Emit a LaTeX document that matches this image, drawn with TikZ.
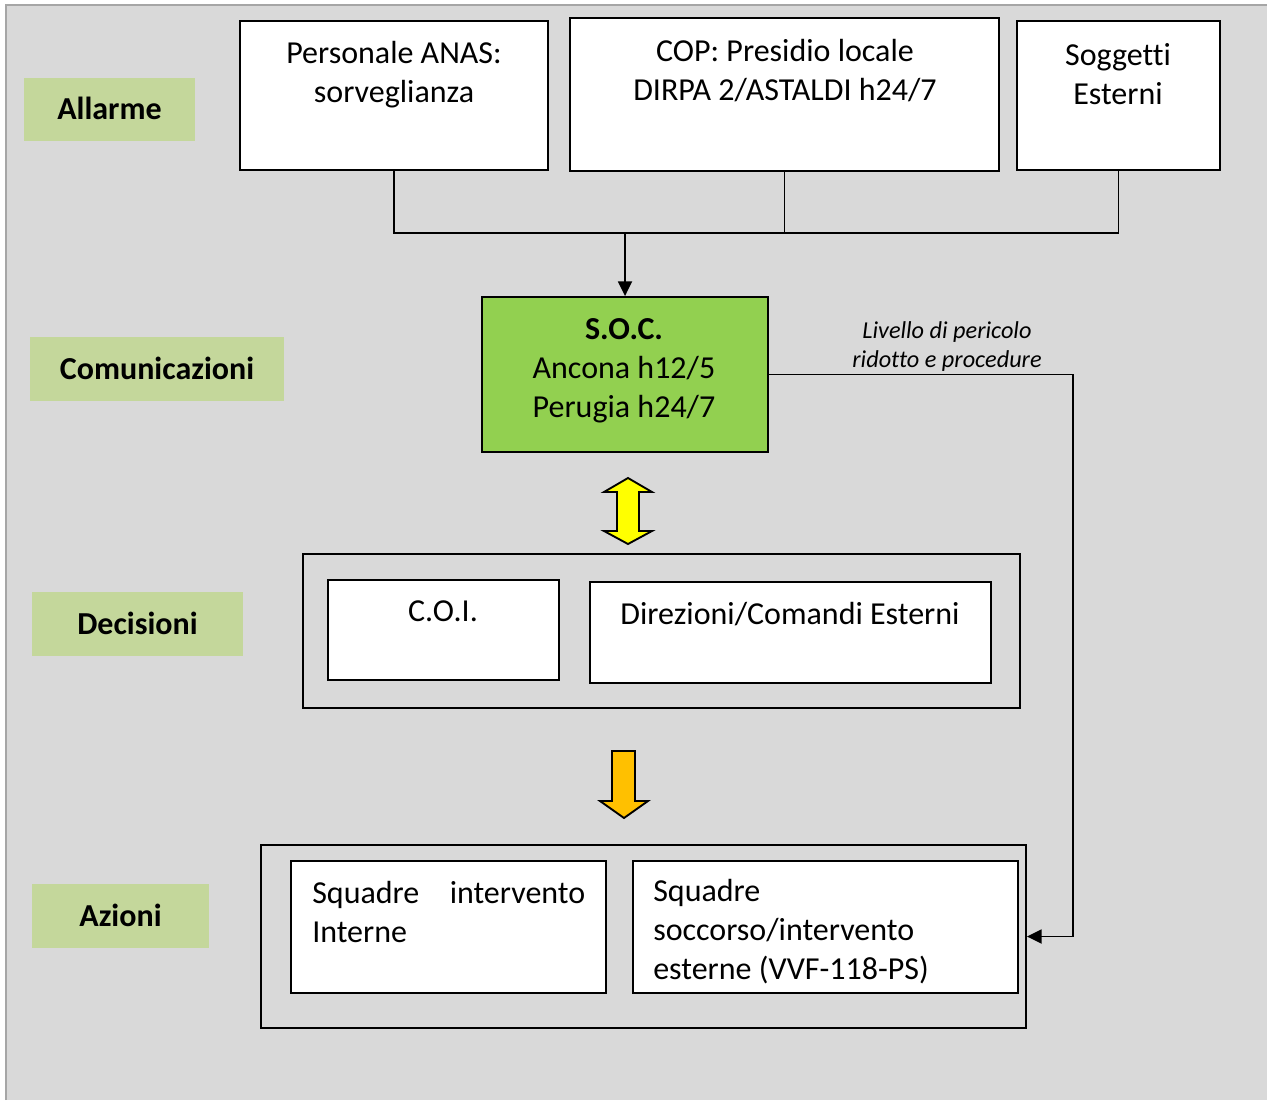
\documentclass[tikz,border=0pt]{standalone}
\usepackage{fontspec}
\setmainfont{Carlito}[Ligatures={NoCommon}]
\usetikzlibrary{arrows.meta,fit}
\definecolor{bggray}{HTML}{D9D9D9}
\definecolor{framegray}{HTML}{A6A6A6}
\definecolor{tagGreen}{HTML}{C4D79B}
\definecolor{socGreen}{HTML}{92D050}
\definecolor{arrYellow}{HTML}{FFFF00}
\definecolor{arrOrange}{HTML}{FFC000}
\newcommand{\bodyfont}{\fontsize{24}{29.25}\selectfont}
\newcommand{\notefont}{\fontsize{18.2}{21.75}\selectfont\itshape}
\begin{document}
\begin{tikzpicture}[x=0.75pt,y=-0.75pt,
  tag/.style={fill=tagGreen, inner sep=0pt},
  tagtxt/.style={font=\bodyfont\bfseries, inner sep=0pt},
  box/.style={draw=black, line width=1.4pt, fill=white, inner sep=0pt},
  group/.style={draw=black, line width=1.4pt, inner sep=0pt},
  txt/.style={font=\bodyfont, align=center, inner sep=0pt},
  ltxt/.style={font=\bodyfont, align=left, inner sep=0pt, anchor=west},
  link/.style={draw=black, line width=1.4pt},
  tip/.style={-{Triangle[length=11pt,width=10.5pt]}},
  block/.style={draw=black, line width=1.4pt, line join=miter}
]
\useasboundingbox (0,0) rectangle (1267,1100);
% page background
\fill[bggray] (6,5) rectangle (1267,1100);
\draw[framegray, line width=1.5pt] (6,1100) -- (6,5) -- (1267,5);

% phase tags
\node[tag, fit={(24,78) (195,141)}] (allarme) {};
\node[tag, fit={(30,337) (284,401)}] (comun) {};
\node[tag, fit={(32,592) (243,656)}] (decis) {};
\node[tag, fit={(32,884) (209,948)}] (azioni) {};
\node[tagtxt] (allarmet) at ([yshift=0.75pt]allarme.center) {Allarme};
\node[tagtxt] (comunt) at ([yshift=0.75pt]comun.center) {Comunicazioni};
\node[tagtxt] (decist) at ([yshift=0.75pt]decis.center) {Decisioni};
\node[tagtxt] (azionit) at ([yshift=0.75pt]azioni.center) {Azioni};

% alarm sources
\node[box, fit={(240,21) (548,170)}] (pers) {};
\node[box, fit={(570,18) (999,171)}] (cop) {};
\node[box, fit={(1017,21) (1220,170)}] (sog) {};
\node[txt] (perst) at (394,75) {Personale ANAS:\\sorveglianza};
\node[txt] (copt) at (785,71) {COP: Presidio locale\\DIRPA 2/ASTALDI h24/7};
\node[txt] (sogt) at (1118,74) {Soggetti\\Esterni};

% S.O.C.
\node[box, fill=socGreen, fit={(482,297) (768,452)}] (soc) {};
\node[txt] (soct) at (624,371) {\textbf{S.O.C.}\\Ancona h12/5\\Perugia h24/7};

% collecting lines to S.O.C.
\coordinate (join) at (625,233);
\draw[link] (pers.south) |- (sog.south |- join) -- (sog.south);
\draw[link] (cop.south) -- (cop.south |- join);
\draw[link, tip] (join) -- (join |- soc.north);

% decisions
\node[group, fit={(303,554) (1020,708)}] (decbox) {};
\node[box, fit={(328,580) (559,680)}] (coi) {};
\node[box, fit={(590,582) (991,683)}] (dir) {};
\node[txt] (coit) at (443,611) {C.O.I.};
\node[txt] (dirt) at (790,614) {Direzioni/Comandi Esterni};

% actions
\node[group, fit={(261,845) (1026,1028)}] (azbox) {};
\node[box, fit={(291,861) (606,993)}] (sqi) {};
\node[box, fit={(633,861) (1018,993)}] (sqe) {};
\node[ltxt] (sqit) at (312,912) {\makebox[204.75pt][s]{Squadre\hfill intervento}\\Interne};
\node[ltxt] (sqet) at (653,932) {Squadre\\soccorso/intervento\\esterne (VVF-118-PS)};

% feedback path
\coordinate (turn) at (1073,375);
\draw[link, tip] (soc.east) -- (soc.east -| turn) -- (turn |- azbox.east) -- (azbox.east);
\node[font=\notefont, align=center, inner sep=0pt] (note) at (947,347) {Livello di pericolo\\ridotto e procedure};

% block arrows between stages
\draw[block, fill=arrYellow] (628,478) -- (652,492) -- (639,492) -- (639,531) -- (652,531) -- (628,544)
  -- (604,531) -- (617,531) -- (617,492) -- (604,492) -- cycle;
\draw[block, fill=arrOrange] (612,751) -- (635,751) -- (635,801) -- (648,801) -- (624,818)
  -- (600,801) -- (612,801) -- cycle;
\end{tikzpicture}
\end{document}
